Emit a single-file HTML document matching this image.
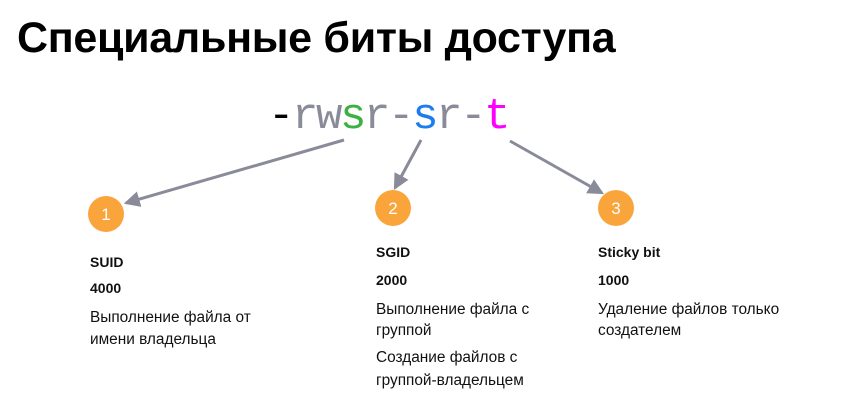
<!DOCTYPE html>
<html><head><meta charset="utf-8"><style>
body{margin:0;width:861px;height:414px;background:#fff;position:relative;overflow:hidden;font-family:"Liberation Sans",sans-serif;color:#111}
.a{position:absolute;white-space:nowrap}
h1{position:absolute;left:17px;top:14px;margin:0;font-size:43px;font-weight:bold;letter-spacing:-0.3px;color:#000}
.code{position:absolute;left:268px;top:92px;font-family:"Liberation Mono",monospace;font-size:44px;letter-spacing:-2.4px;color:#8a8b99}
.b{font-weight:bold;font-size:14px}
.t{font-size:15.4px}
</style></head><body>
<h1>Специальные биты доступа</h1>
<div class="code"><span style="color:#000">-</span>rw<span style="color:#3cb043">s</span>r-<span style="color:#1e7bf0">s</span>r-<span style="color:#ff00ff">t</span></div>
<svg width="861" height="414" style="position:absolute;left:0;top:0">
<defs><marker id="m" markerWidth="16" markerHeight="16" refX="12" refY="7" orient="auto" markerUnits="userSpaceOnUse" viewBox="0 0 14 14"><path d="M0,0L14,7L0,14z" fill="#8a8b99"/></marker></defs>
<g stroke="#8a8b99" stroke-width="3" fill="none">
<line x1="344" y1="140" x2="126" y2="203" marker-end="url(#m)"/>
<line x1="421" y1="140" x2="395" y2="188" marker-end="url(#m)"/>
<line x1="510" y1="141" x2="602" y2="193" marker-end="url(#m)"/>
</g>
<g fill="#f9a53b"><circle cx="106" cy="214" r="18"/><circle cx="393" cy="208" r="18"/><circle cx="616" cy="208" r="18"/></g>
<g fill="#fff" font-family="Liberation Sans" font-size="17" text-anchor="middle"><text x="106" y="220">1</text><text x="393" y="214">2</text><text x="616" y="214">3</text></g>
</svg>
<div class="a b" style="left:90px;top:254px">SUID</div>
<div class="a b" style="left:90px;top:280px">4000</div>
<div class="a t" style="left:90px;top:309px">Выполнение файла от</div>
<div class="a t" style="left:90px;top:331px">имени владельца</div>
<div class="a b" style="left:376px;top:244px">SGID</div>
<div class="a b" style="left:376px;top:272px">2000</div>
<div class="a t" style="left:376px;top:301px">Выполнение файла с</div>
<div class="a t" style="left:376px;top:322px">группой</div>
<div class="a t" style="left:376px;top:349px">Создание файлов с</div>
<div class="a t" style="left:376px;top:372px">группой-владельцем</div>
<div class="a b" style="left:598px;top:244px">Sticky bit</div>
<div class="a b" style="left:598px;top:272px">1000</div>
<div class="a t" style="left:598px;top:301px">Удаление файлов только</div>
<div class="a t" style="left:598px;top:322px">создателем</div>
</body></html>
